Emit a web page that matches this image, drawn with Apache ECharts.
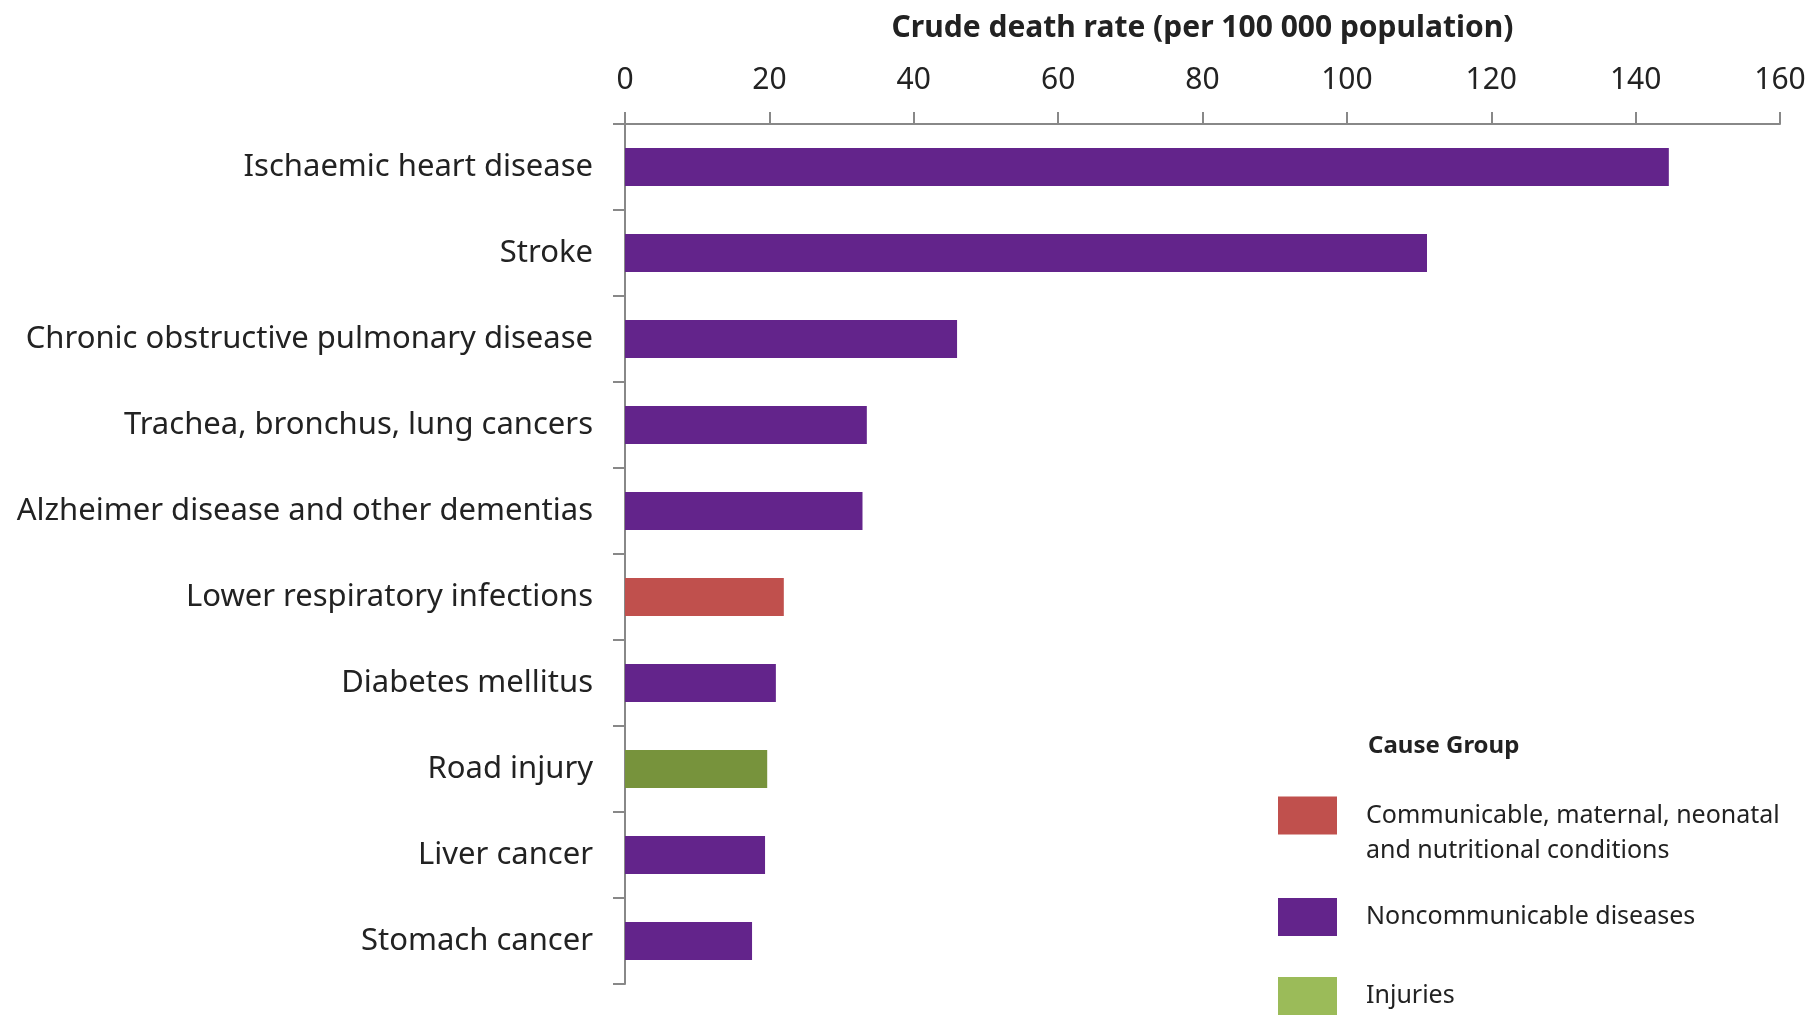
<!DOCTYPE html>
<html>
    <head>
        <title>Crude death rate by cause</title>
        <meta charset="UTF-8">
        <script src="https://cdn.jsdelivr.net/npm/echarts@6/dist/echarts.min.js"></script>
        <style>
            html, body {
                margin: 0;
                padding: 0;
                background-color: #fff;
            }
            #main {
                width: 1816px;
                height: 1016px;
            }
        </style>
    </head>
    <body>
        <div id="main"></div>
        <script>
            // causes, top to bottom
            var causes = ['Ischaemic heart disease', 'Stroke', 'Chronic obstructive pulmonary disease',
                'Trachea, bronchus, lung cancers', 'Alzheimer disease and other dementias',
                'Lower respiratory infections', 'Diabetes mellitus', 'Road injury', 'Liver cancer', 'Stomach cancer'];
            var rates = [144.6, 111.1, 46.0, 33.5, 32.9, 22.0, 20.9, 19.7, 19.4, 17.6];
            // 0 = communicable, 1 = noncommunicable, 2 = injuries
            var groupOf = [1, 1, 1, 1, 1, 0, 1, 2, 1, 1];
            var groupNames = ['Communicable, maternal, neonatal and nutritional conditions',
                'Noncommunicable diseases', 'Injuries'];
            var xTicks = [0, 20, 40, 60, 80, 100, 120, 140, 160];

            var barColors = ['#c0504d', '#63248b', '#77933c'];
            var keyColors = ['#c0504d', '#63248b', '#9bbb59'];
            var font = 'Noto Sans';

            var chart = echarts.init(document.getElementById('main'));

            var series = [];
            for (var g = 0; g < groupNames.length; g++) {
                var d = [];
                for (var i = 0; i < causes.length; i++) {
                    d.push(groupOf[i] === g ? rates[i] : '-');
                }
                series.push({
                    name: groupNames[g],
                    type: 'bar',
                    stack: 'all',
                    barWidth: 38,
                    itemStyle: {color: barColors[g]},
                    data: d
                });
            }

            function key(g, top, twoLines) {
                return {
                    orient: 'vertical',
                    left: 1278,
                    top: top,
                    padding: 0,
                    selectedMode: false,
                    icon: 'rect',
                    itemWidth: 59,
                    itemHeight: 38,
                    textStyle: {
                        fontFamily: font,
                        fontSize: 25,
                        color: '#222',
                        lineHeight: 35,
                        padding: [0, 0, 0, 24]
                    },
                    formatter: function (n) {
                        // empty first line keeps the first text line level with the swatch
                        return twoLines ? '\n' + n.replace(' and ', '\nand ') : n;
                    },
                    data: [{name: groupNames[g], itemStyle: {color: keyColors[g]}}]
                };
            }

            var option = {
                animation: false,
                title: {
                    text: 'Cause Group',
                    left: 1363,
                    top: 729,
                    textStyle: {fontFamily: font, fontSize: 24, fontWeight: 'bold', color: '#222'}
                },
                legend: [key(0, 763, true), key(1, 898), key(2, 977)],
                grid: {left: 625, right: 36, top: 124, bottom: 32, containLabel: false},
                xAxis: {
                    type: 'value',
                    position: 'top',
                    min: xTicks[0],
                    max: xTicks[xTicks.length - 1],
                    interval: 20,
                    name: 'Crude death rate (per 100 000 population)',
                    nameLocation: 'middle',
                    nameGap: 81,
                    nameTextStyle: {fontFamily: font, fontSize: 30, fontWeight: 'bold', color: '#222'},
                    axisLine: {show: true, lineStyle: {color: '#888', width: 2}},
                    axisTick: {show: true, length: 12, lineStyle: {color: '#888', width: 2}},
                    axisLabel: {fontFamily: font, fontSize: 30, color: '#222', margin: 29},
                    splitLine: {show: false}
                },
                yAxis: {
                    type: 'category',
                    inverse: true,
                    data: causes,
                    axisLine: {show: true, lineStyle: {color: '#888', width: 2}},
                    axisTick: {show: true, length: 12, lineStyle: {color: '#888', width: 2}},
                    axisLabel: {fontFamily: font, fontSize: 31, color: '#222', margin: 32, padding: [7, 0, 0, 0]}
                },
                series: series
            };
            chart.setOption(option);
        </script>
    </body>
</html>
